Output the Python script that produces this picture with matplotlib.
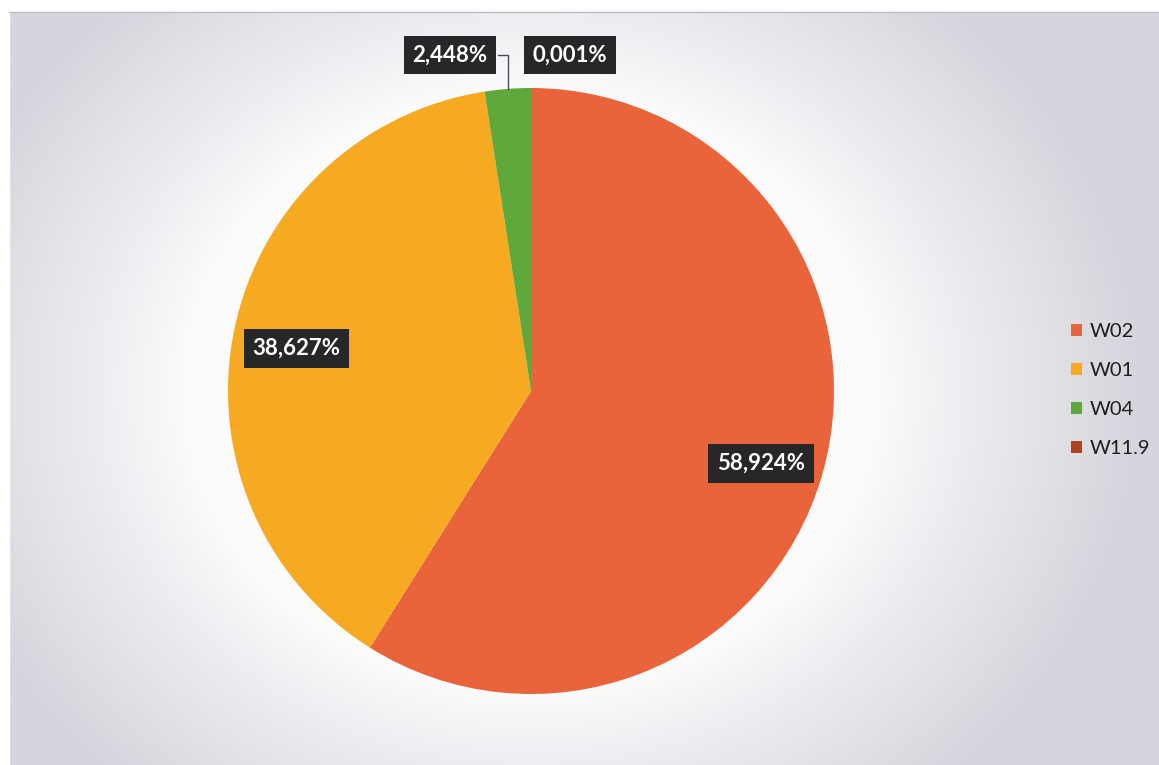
import numpy as np
import matplotlib

matplotlib.use("Agg")
import matplotlib.pyplot as plt

# share of each well, percent, drawn clockwise from 12 o'clock
wells = ["W02", "W01", "W04", "W11.9"]
shares = [58.924, 38.627, 2.448, 0.001]
slice_colors = ["#E9643A", "#F6AA22", "#5EA83C", "#B0421E"]

W, H = 1159, 765
CX, CY, R = 531, 391, 303  # pie centre and radius in pixels (y from top)

fig = plt.figure(figsize=(W / 100, H / 100), dpi=100)
ax = fig.add_axes([0, 0, 1, 1])
x0, x1 = -CX / R, (W - CX) / R
y0, y1 = -(H - CY) / R, CY / R
ax.set_xlim(x0, x1)
ax.set_ylim(y0, y1)
ax.axis("off")

# soft white halo around the pie fading into a grey page
gx, gy = np.meshgrid(np.linspace(x0, x1, 400), np.linspace(y1, y0, 265))
d = np.hypot(gx / 1.15, gy)
t = np.clip((d - 1.0) / 0.75, 0, 1) ** 0.9
edge = np.array([214, 213, 221]) / 255
bg = (1 - t)[..., None] * np.array([0.985, 0.985, 0.99]) + t[..., None] * edge
ax.imshow(bg, extent=(x0, x1, y0, y1), aspect="auto", zorder=0, interpolation="bilinear")

# white scan margin on top and left
ax.axhspan(y1 - 12 / R, y1, color="white", zorder=1)
ax.axvspan(x0, x0 + 9 / R, color="white", zorder=1)
ax.axhline(y1 - 12 / R, xmin=9 / W, color="#b8b8c0", lw=1, zorder=1)

wedges, _ = ax.pie(
    shares,
    colors=slice_colors,
    startangle=90,
    counterclock=False,
    radius=1.0,
    wedgeprops=dict(linewidth=0),
)
ax.set_xlim(x0, x1)
ax.set_ylim(y0, y1)
ax.set_aspect("auto")

box = dict(boxstyle="square,pad=0.4", fc="#272628", ec="none")
label_kw = dict(color="white", fontsize=16, fontweight="bold", family="Lato",
                ha="center", va="center", bbox=box, zorder=5)


def fmt(v):
    return f"{v:.3f}".replace(".", ",") + "%"


def mid(w, r):
    a = np.deg2rad((w.theta1 + w.theta2) / 2)
    return r * np.cos(a), r * np.sin(a)


# large slices labelled inside
for w, v in zip(wedges[:2], shares[:2]):
    lx, ly = mid(w, 0.79)
    ax.text(lx, ly - 0.02, fmt(v), **label_kw)

# small slices labelled above the pie
ly = (CY - 55) / R
ax.text((450 - CX) / R, ly, fmt(shares[2]), **label_kw)
ax.text((570 - CX) / R, ly, fmt(shares[3]), **label_kw)

# leader line for the green slice
gx_, gy_ = mid(wedges[2], 1.0)
ax.plot([(498 - CX) / R, gx_, gx_], [ly, ly, gy_], color="#4a4a5a", lw=1, zorder=4)

leg = fig.legend(
    wedges, wells,
    loc="center left",
    bbox_to_anchor=(1061 / W, 1 - 390 / H),
    frameon=False,
    prop=dict(family="Lato", size=14.5),
    labelcolor="#1e1e1e",
    handlelength=0.55,
    handleheight=0.55,
    handletextpad=0.35,
    labelspacing=1.1,
    borderpad=0,
)

fig.savefig("out.png", dpi=100)
